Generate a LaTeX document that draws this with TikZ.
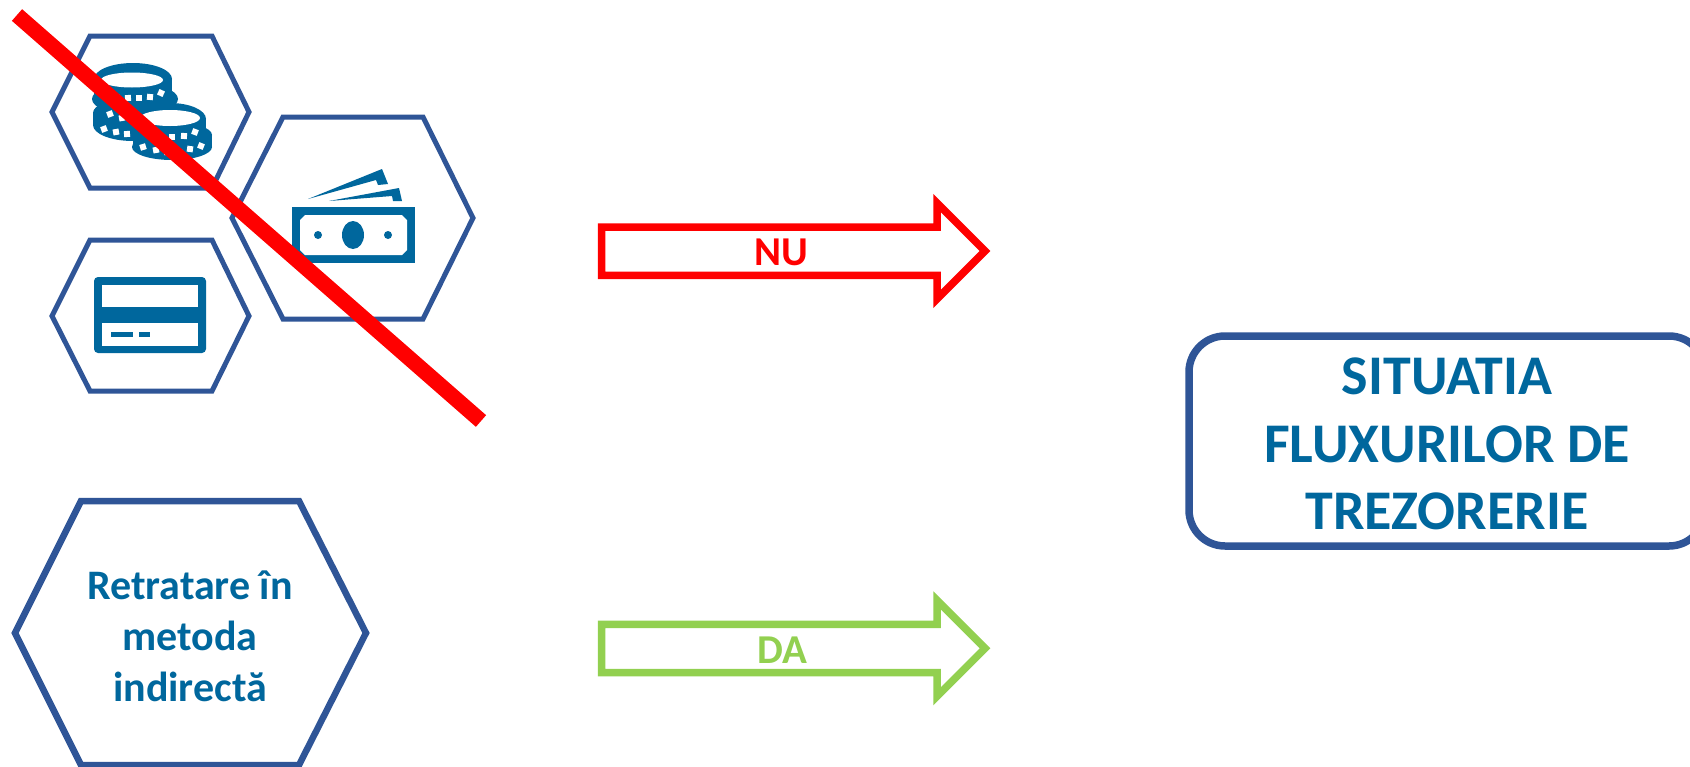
\documentclass[tikz,border=0pt]{standalone}
\usepackage{fontspec}
\setmainfont{Carlito}
\definecolor{hexblue}{HTML}{2F5597}
\definecolor{iconblue}{HTML}{00679D}
\definecolor{gooD}{HTML}{92D050}
\definecolor{baD}{HTML}{FF0000}
\tikzset{
  hexline/.style={draw=hexblue,line width=5pt,line join=miter,fill=white},
  hexthick/.style={draw=hexblue,line width=6.5pt,line join=miter,fill=white},
  ico/.style={fill=iconblue,draw=none},
  hole/.style={fill=white,draw=none},
  arrowshape/.style={line width=7.5pt,line join=miter,miter limit=10,fill=white},
  labeltext/.style={font=\bfseries\fontsize{41}{47}\selectfont,inner sep=0pt,anchor=base},
  hextext/.style={font=\bfseries\fontsize{42}{51}\selectfont,text=iconblue,align=center,inner sep=0pt},
  titletext/.style={font=\bfseries\fontsize{56}{67.5}\selectfont,text=iconblue,align=center,inner sep=0pt},
  cross/.style={draw=baD,line width=15.5pt,line cap=butt}
}
\begin{document}
\begin{tikzpicture}[x=1pt,y=-1pt]
\clip (0,0) rectangle (1690,766);
\fill[white] (0,0) rectangle (1690,766);

% small hexagons
\draw[hexline] (52,112) -- (90,36) -- (212,36) -- (249,112) -- (212,188) -- (90,188) -- cycle;
\draw[hexline] (52,316) -- (90,240) -- (212,240) -- (249,316) -- (212,391) -- (90,391) -- cycle;
\draw[hexline] (232,218) -- (283,117) -- (423,117) -- (473,218) -- (423,319) -- (283,319) -- cycle;

% coins
\fill[ico] (133,79) ellipse [x radius=39,y radius=16];
\fill[ico] (94,79) rectangle (172,98);
\fill[ico] (135,99) ellipse [x radius=43,y radius=16];
\fill[ico] (133,113) ellipse [x radius=40,y radius=15];
\fill[ico] (93,113) rectangle (172,125);
\fill[ico] (133,125) ellipse [x radius=40,y radius=16];
\fill[ico] (170,119) ellipse [x radius=36,y radius=16];
\fill[ico] (134,119) rectangle (206,135);
\fill[ico] (172,135) ellipse [x radius=40,y radius=13];
\fill[ico] (133,135) rectangle (212,147);
\fill[ico] (172,147) ellipse [x radius=40,y radius=13];
\fill[hole] (132,80) ellipse [x radius=31,y radius=7.5];
\fill[hole] (170,118) ellipse [x radius=30,y radius=8];
\foreach \x/\y/\r in {117/98/8,128/98/2,139/98/0,150/97/-6,161/93/-25,
  110/114/20,122/118/10,133/119/4,
  104/129/20,116/132/10,127/134/5,
  160/137/6,172/137/0,184/136/-5,195/132/-20,
  143/147/18,156/150/10,167/152/4,179/152/-2,190/149/-8,201/146/-22}
  \fill[hole,rotate around={\r:(\x,\y)}] (\x-3,\y-3) rectangle (\x+3,\y+3);

% banknote
\fill[ico] (308,199) -- (382,169) -- (388,184) -- (378,185) -- (376,180) -- cycle;
\fill[ico] (329,201) -- (399,188) -- (402,201) -- (393,201) -- (392,196) -- cycle;
\fill[ico] (292,207) rectangle (415,263);
\fill[hole] (305,215) -- (402,215) -- (407,220) -- (407,250) -- (402,255) -- (305,255) -- (300,250) -- (300,220) -- cycle;
\fill[ico] (353,235) ellipse [x radius=11,y radius=14];
\fill[ico] (318,235) circle [radius=4];
\fill[ico] (388,235) circle [radius=4];

% card
\fill[ico,rounded corners=4pt] (94,277) rectangle (206,353);
\fill[hole] (102,285) rectangle (198,307);
\fill[hole] (102,323) rectangle (198,346);
\fill[ico] (111,332) rectangle (133,337);
\fill[ico] (139,332) rectangle (150,337);

% retratare hexagon
\draw[hexthick] (15,633) -- (81,501) -- (299,501) -- (366,633) -- (299,765) -- (81,765) -- cycle;
\node[hextext] (retr) at (190,636.5) {Retratare în\\metoda\\indirectă};

% arrows
\draw[arrowshape,draw=baD] (601.5,227) -- (937,227) -- (937,203) -- (985,251) -- (937,299) -- (937,275.3) -- (601.5,275.3) -- cycle;
\node[labeltext,text=baD] (nu) at (781,265) {NU};
\draw[arrowshape,draw=gooD] (601.5,624.3) -- (937,624.3) -- (937,600.3) -- (985,648.3) -- (937,696.3) -- (937,672.7) -- (601.5,672.7) -- cycle;
\node[labeltext,text=gooD] (da) at (782,663) {DA};

% title box
\draw[draw=hexblue,line width=7.5pt,fill=white,rounded corners=36pt] (1189,336) rectangle (1705,546);
\node[titletext] (title) at (1447,444) {SITUATIA\\FLUXURILOR DE\\TREZORERIE};

% strike-through
\coordinate (sa) at (17,15);
\coordinate (sb) at (481,421);
\draw[cross] (sa) -- (sb);
\end{tikzpicture}
\end{document}
